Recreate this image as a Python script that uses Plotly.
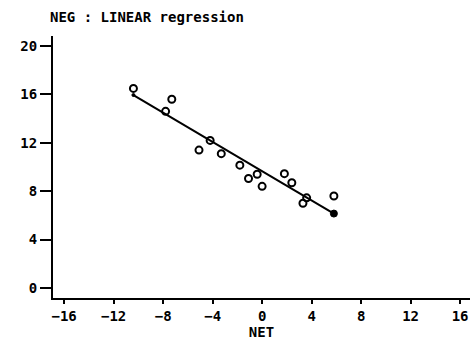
import plotly.graph_objects as go

# Observed data (NET vs NEG)
net = [-10.4, -7.3, -7.8, -5.1, -4.2, -3.3, -1.8, -1.1, -0.4, 0.0, 1.8, 2.4, 3.3, 3.6, 5.8]
neg = [16.5, 15.6, 14.6, 11.4, 12.2, 11.1, 10.15, 9.05, 9.4, 8.4, 9.45, 8.7, 7.0, 7.45, 7.6]

# Fitted regression line endpoints
fit_x = [-10.4, 5.8]
fit_y = [15.95, 6.15]

x_ticks = [-16, -12, -8, -4, 0, 4, 8, 12, 16]
y_ticks = [0, 4, 8, 12, 16, 20]

FONT = "DejaVu Sans Mono"

fig = go.Figure()
fig.add_trace(go.Scatter(
    x=fit_x, y=fit_y, mode="lines",
    line=dict(color="black", width=2),
    showlegend=False, hoverinfo="skip"))
fig.add_trace(go.Scatter(
    x=fit_x, y=fit_y, mode="markers",
    marker=dict(color="#000000", size=[3, 7], opacity=1, line=dict(width=1, color="#000000")),
    showlegend=False, hoverinfo="skip"))
fig.add_trace(go.Scatter(
    x=net, y=neg, mode="markers",
    marker=dict(symbol="circle-open", color="black", size=7, line=dict(width=2, color="black")),
    showlegend=False))

fig.update_layout(
    width=475, height=343,
    margin=dict(l=53, r=5, t=36, b=45),
    paper_bgcolor="white", plot_bgcolor="white",
    font=dict(family=FONT, size=14, color="black", weight="bold"),
    title=dict(text="NEG : LINEAR regression", x=0, xref="paper", xanchor="left",
               y=1, yref="container", yanchor="top", pad=dict(t=12, l=-3),
               font=dict(family=FONT, size=14, color="black", weight="bold")),
    xaxis=dict(range=[-16.9, 16.8], tickvals=x_ticks, ticktext=[str(v).replace("-", "−") for v in x_ticks],
               automargin=False,
               showgrid=False, zeroline=False, showline=True, linecolor="black", linewidth=2,
               ticks="outside", ticklen=4, tickwidth=2, tickcolor="black",
               title=dict(text="NET", standoff=0, font=dict(size=14, family=FONT, weight="bold")),
               tickfont=dict(size=14, family=FONT, weight="bold")),
    yaxis=dict(range=[-0.83, 20.83], tickvals=y_ticks, automargin=False,
               showgrid=False, zeroline=False, showline=True, linecolor="black", linewidth=2,
               ticks="outside", ticklen=11, tickwidth=2, tickcolor="black",
               tickfont=dict(size=14, family=FONT, weight="bold")),
)

fig.write_html("out.html", config={"displayModeBar": False},
               post_script="document.body.style.margin='0';document.body.style.overflow='hidden';")
